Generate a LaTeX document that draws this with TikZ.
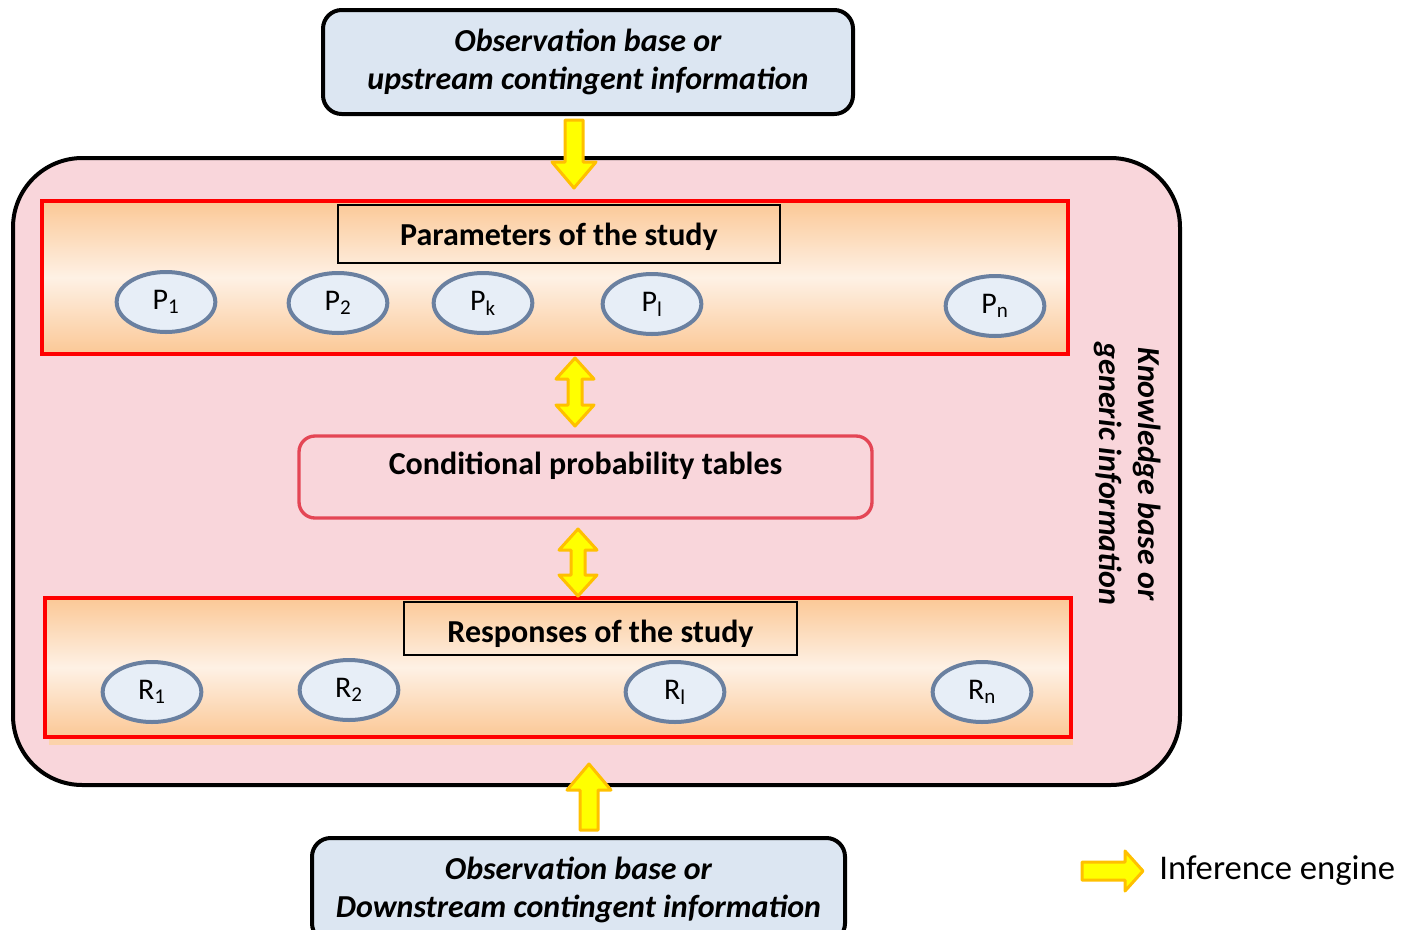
\documentclass[tikz,border=0pt]{standalone}
\usepackage{fontspec}
\setmainfont{Carlito}
\usetikzlibrary{shapes.geometric,calc}
\definecolor{pinkbg}{RGB}{249,214,219}
\definecolor{obsblue}{RGB}{220,230,242}
\definecolor{ellfill}{RGB}{231,238,247}
\definecolor{ellline}{RGB}{106,128,160}
\definecolor{bandor}{RGB}{251,200,150}
\definecolor{bandlt}{RGB}{254,241,229}
\definecolor{cptred}{RGB}{228,70,85}
\definecolor{arrowor}{RGB}{255,192,0}
\definecolor{arrowyel}{RGB}{255,255,0}
\tikzset{
  obsbox/.style={draw=black,line width=3pt,fill=obsblue,rounded corners=14pt,
    minimum width=397.5pt,align=center,font=\fontsize{24}{28.5}\selectfont\bfseries\itshape},
  kbox/.style={draw=black,line width=3pt,fill=pinkbg,rounded corners=52pt},
  band/.style={draw=red,line width=3pt,top color=bandor,bottom color=bandor,middle color=bandlt},
  titlebox/.style={draw=black,line width=1.2pt,font=\fontsize{24}{28}\selectfont\bfseries},
  var/.style={ellipse,draw=ellline,line width=3pt,fill=ellfill,minimum width=74pt,
    minimum height=45pt,inner sep=0pt,font=\fontsize{22.5}{26}\selectfont},
  cptbox/.style={draw=cptred,line width=2.5pt,fill=pinkbg,rounded corners=12pt,
    font=\fontsize{24}{28}\selectfont\bfseries},
  infarrow/.style={draw=arrowor,fill=arrowyel,line width=2.25pt,line join=round},
}
\newcommand\ArrowDown[3]{% x, ytail, ytip
  \filldraw[infarrow] (#1-9,#2) -- (#1+9,#2) -- (#1+9,#3-26) -- (#1+22,#3-26) -- (#1,#3)
   -- (#1-22,#3-26) -- (#1-9,#3-26) -- cycle;}
\newcommand\ArrowUp[3]{% x, ytail, ytip
  \filldraw[infarrow] (#1-9,#2) -- (#1+9,#2) -- (#1+9,#3+26) -- (#1+22,#3+26) -- (#1,#3)
   -- (#1-22,#3+26) -- (#1-9,#3+26) -- cycle;}
\newcommand\ArrowBoth[3]{% x, ytop, ybot
  \filldraw[infarrow] (#1,#2) -- (#1+19,#2+21) -- (#1+7,#2+21) -- (#1+7,#3-21) -- (#1+19,#3-21)
   -- (#1,#3) -- (#1-19,#3-21) -- (#1-7,#3-21) -- (#1-7,#2+21) -- (#1-19,#2+21) -- cycle;}
\begin{document}
\begin{tikzpicture}[x=0.75pt,y=-0.75pt]
\useasboundingbox (0,0) rectangle (1414,929);
% knowledge base
\node[kbox,minimum width=875.25pt,minimum height=470.25pt] (kb) at (596.5,471.5) {};
\node[rotate=-90,align=center,font=\fontsize{24}{29.25}\selectfont\bfseries\itshape] (kbtext) at (1128,474)
  {Knowledge base or\\generic information};
% observation boxes
\node[obsbox,minimum height=78pt] (obsup) at (588,62) {Observation base or\\upstream contingent information};
\node[obsbox,minimum height=78pt,minimum width=399.75pt] (obsdown) at (578.5,890) {Observation base or\\Downstream contingent information};
% parameters band
\node[band,minimum width=769.5pt,minimum height=114.75pt] (pband) at (555,277.5) {};
\node[titlebox,minimum width=331.5pt,minimum height=43.5pt] (ptitle) at (559,234) {\raisebox{-2.25pt}[\height][\depth]{Parameters of the study}};
\node[var] (p1) at (166,302) {P\textsubscript{1}};
\node[var] (p2) at (338,303) {P\textsubscript{2}};
\node[var] (pk) at (483,303) {P\textsubscript{k}};
\node[var] (pl) at (652,304) {P\textsubscript{l}};
\node[var] (pn) at (995,306) {P\textsubscript{n}};
% CPT
\node[cptbox,minimum width=429.75pt,minimum height=61.5pt] (cpt) at (585.5,477) {\raisebox{8.25pt}[\height][\depth]{Conditional probability tables}};
% responses band
\fill[bandor!80] (49,604) rectangle (1073,745);
\node[band,minimum width=769.5pt,minimum height=104.25pt] (rband) at (558,667.5) {};
\node[titlebox,minimum width=294.75pt,minimum height=39.75pt] (rtitle) at (600.5,628.5) {\raisebox{-3.75pt}[\height][\depth]{Responses of the study}};
\node[var] (r1) at (152,692) {R\textsubscript{1}};
\node[var] (r2) at (349,690) {R\textsubscript{2}};
\node[var] (rl) at (675,692) {R\textsubscript{l}};
\node[var] (rn) at (982,692) {R\textsubscript{n}};
% inference arrows
\ArrowDown{574}{120}{188}
\ArrowBoth{575}{358}{426}
\ArrowBoth{578}{529}{596}
\ArrowUp{589}{830}{764}
% legend
\filldraw[infarrow] (1082,862) -- (1125,862) -- (1125,851) -- (1143,871) -- (1125,891) -- (1125,880) -- (1082,880) -- cycle;
\node[anchor=west,font=\fontsize{26}{30}\selectfont,inner sep=0pt] (legtext) at (1159,871) {Inference engine};
\end{tikzpicture}
\end{document}
